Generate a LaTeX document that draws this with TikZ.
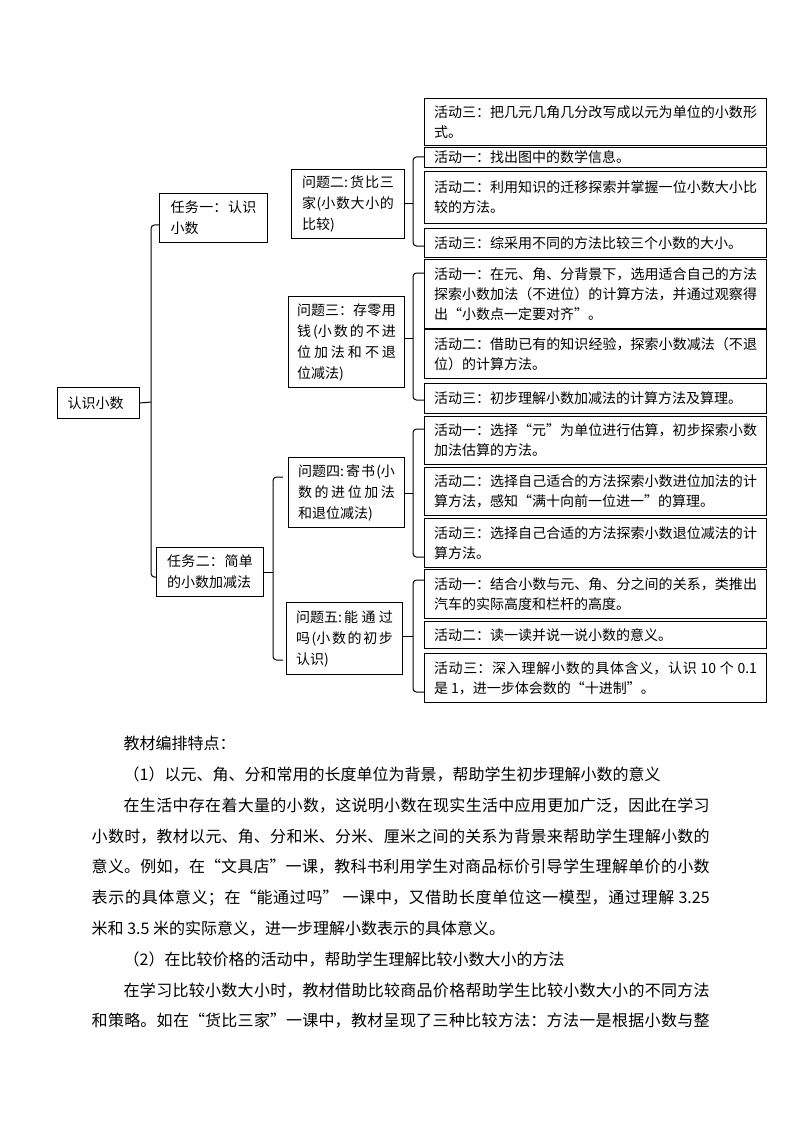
\documentclass[tikz,border=0pt]{standalone}
\usepackage{fontspec}
\setmainfont{Noto Sans CJK SC}
\usetikzlibrary{calc}
\XeTeXlinebreaklocale "zh"
\XeTeXlinebreakskip=0pt plus 2pt
\newcommand\zql{\makebox[1em][r]{“}}
\newcommand\zqr{\makebox[1em][l]{”}}
\newcommand\acttext[1]{\parbox{323pt}{\fontsize{14}{20}\selectfont #1}}
\newcommand\qtext[2]{\parbox{#1}{\fontsize{14}{21}\selectfont #2}}
\begin{document}
\begin{tikzpicture}[x=1pt,y=-1pt,
  box/.style={draw, line width=1pt, anchor=north west, inner sep=0pt},
  act/.style={box, minimum width=342pt},
  br/.style={line width=1pt, rounded corners=3.5pt}]
\useasboundingbox (0,0) rectangle (794,1123);

% root and tasks
\node[box, minimum width=82pt, minimum height=31pt] (root) at (57,387)
  {\qtext{62pt}{认识小数}};
\node[box, minimum width=108pt, minimum height=49pt] (t1) at (159,193)
  {\qtext{86pt}{任务一：认识\linebreak 小数}};
\node[box, minimum width=107pt, minimum height=49pt] (t2) at (156,547)
  {\qtext{86pt}{任务二：简单\linebreak 的小数加减法}};

% questions
\node[box, minimum width=113pt, minimum height=69pt] (q2) at (291,169)
  {\qtext{92pt}{\mbox{问题二:}\,货比三\linebreak 家(小数大小的\linebreak 比较)}};
\node[box, minimum width=116pt, minimum height=91pt] (q3) at (288,296)
  {\qtext{99pt}{\mbox{问题三：}存零用\linebreak 钱(小数的不进\linebreak 位加法和不退\linebreak 位减法)}};
\node[box, minimum width=116pt, minimum height=70pt] (q4) at (288,457)
  {\qtext{97pt}{\mbox{问题四:}\,寄书(小\linebreak 数的进位加法\linebreak 和退位减法)}};
\node[box, minimum width=116pt, minimum height=72pt] (q5) at (286,602)
  {\qtext{97pt}{\mbox{问题五:}\,能通过\linebreak 吗(小数的初步\linebreak 认识)}};

% activities
\node[act, minimum height=47pt] (a0) at (424,98)
  {\acttext{活动三：把几元几角几分改写成以元为单位的小数形\linebreak 式。}};
\node[act, minimum height=20pt] (q2a1) at (424,147)
  {\acttext{活动一：找出图中的数学信息。}};
\node[act, minimum height=52pt] (q2a2) at (424,171)
  {\acttext{活动二：利用知识的迁移探索并掌握一位小数大小比\linebreak 较的方法。}};
\node[act, minimum height=29pt] (q2a3) at (424,228)
  {\acttext{活动三：综采用不同的方法比较三个小数的大小。}};
\node[act, minimum height=69pt] (q3a1) at (424,259)
  {\acttext{活动一：在元、角、分背景下，选用适合自己的方法\linebreak 探索小数加法（不进位）的计算方法，并通过观察得\linebreak 出\zql 小数点一定要对齐\zqr 。}};
\node[act, minimum height=49pt] (q3a2) at (424,329)
  {\acttext{活动二：借助已有的知识经验，探索小数减法（不退\linebreak 位）的计算方法。}};
\node[act, minimum height=30pt] (q3a3) at (424,383)
  {\acttext{活动三：初步理解小数加减法的计算方法及算理。}};
\node[act, minimum height=48pt] (q4a1) at (424,416)
  {\acttext{活动一：选择\zql 元\zqr 为单位进行估算，初步探索小数\linebreak 加法估算的方法。}};
\node[act, minimum height=48pt] (q4a2) at (424,467)
  {\acttext{活动二：选择自己适合的方法探索小数进位加法的计\linebreak 算方法，感知\zql 满十向前一位进一\zqr 的算理。}};
\node[act, minimum height=49pt] (q4a3) at (424,518)
  {\acttext{活动三：选择自己合适的方法探索小数退位减法的计\linebreak 算方法。}};
\node[act, minimum height=49pt] (q5a1) at (424,569)
  {\acttext{活动一：结合小数与元、角、分之间的关系，类推出\linebreak 汽车的实际高度和栏杆的高度。}};
\node[act, minimum height=27pt] (q5a2) at (424,621)
  {\acttext{活动二：读一读并说一说小数的意义。}};
\node[act, minimum height=49pt] (q5a3) at (424,653)
  {\acttext{活动三：深入理解小数的具体含义，认识 10 个 0.1\linebreak 是 1，进一步体会数的\zql 十进制\zqr 。}};

% braces
\path (root.east) ++(11,-1) coordinate (bm0);
\draw[br] (t1.west |- 0,225) -| (bm0) |- (t2.west |- 0,577);
\draw[br] (root.east) -- (bm0);

\path (t2.east) ++(9,-3) coordinate (bm1);
\draw[br] ($(q4.west |- 0,477)+(-5,0)$) -| (bm1) |- ($(q5.west |- 0,660)+(-3,0)$);
\draw[br] (t2.east) -- (t2.east -| bm1);

\path (q2.east) ++(8,-2) coordinate (bq2);
\draw[br] (q2a1.west |- 0,157) -| (bq2) |- (q2a3.west |- 0,246);
\draw[br] (q2.east) -- (q2.east -| bq2);

\path (q3.east) ++(8,-4) coordinate (bq3);
\draw[br] (q3a1.west |- 0,273) -| (bq3) |- (q3a3.west |- 0,400);
\draw[br] (q3.east |- bq3) -- (bq3);

\path (q4.east) ++(8,1) coordinate (bq4);
\draw[br] (q4a1.west |- 0,429) -| (bq4) |- (q4a3.west |- 0,557);
\draw[br] (q4.east |- bq4) -- (bq4);

\path (q5.east) ++(10,-2) coordinate (bq5);
\draw[br] (q5a1.west |- 0,580) -| (bq5) |- (q5a3.west |- 0,692);
\draw[br] (q5.east |- bq5) -- (bq5);

% body text
\node[anchor=north west, inner sep=0pt, text width=618pt, align=justify] (body) at (91.5,736)
{\fontsize{16}{30.8}\selectfont\parindent=32pt
\indent 教材编排特点：\par
\indent （1）以元、角、分和常用的长度单位为背景，帮助学生初步理解小数的意义\par
\indent 在生活中存在着大量的小数，这说明小数在现实生活中应用更加广泛，因此在学习\linebreak 小数时，教材以元、角、分和米、分米、厘米之间的关系为背景来帮助学生理解小数的\linebreak 意义。例如，在\zql 文具店\zqr 一课，教科书利用学生对商品标价引导学生理解单价的小数\linebreak 表示的具体意义；在\zql 能通过吗\zqr\ 一课中，又借助长度单位这一模型，通过理解 3.25\linebreak 米和 3.5 米的实际意义，进一步理解小数表示的具体意义。\par
\indent （2）在比较价格的活动中，帮助学生理解比较小数大小的方法\par
{\parfillskip=0pt \indent 在学习比较小数大小时，教材借助比较商品价格帮助学生比较小数大小的不同方法\linebreak 和策略。如在\zql 货比三家\zqr 一课中，教材呈现了三种比较方法：方法一是根据小数与整\par}};
\end{tikzpicture}
\end{document}
